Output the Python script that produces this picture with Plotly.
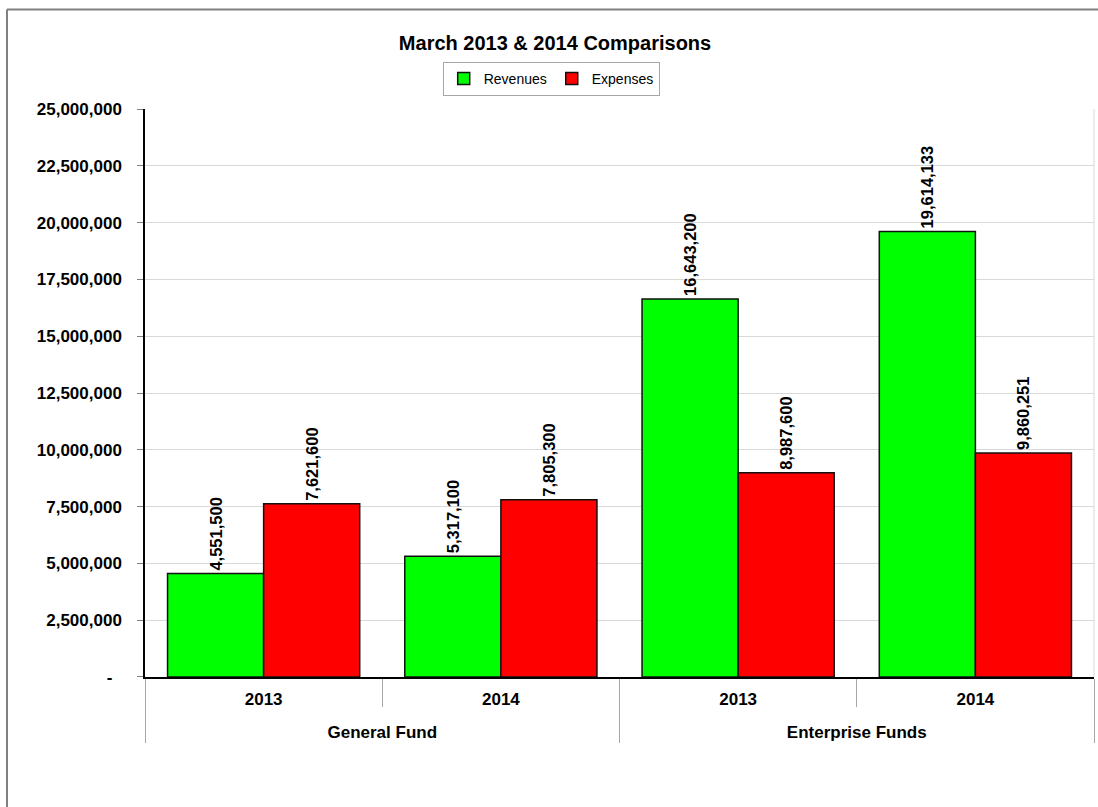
import plotly.graph_objects as go

funds = ["General Fund", "General Fund", "Enterprise Funds", "Enterprise Funds"]
years = ["2013", "2014", "2013", "2014"]
revenues = [4551500, 5317100, 16643200, 19614133]
expenses = [7621600, 7805300, 8987600, 9860251]
y_ticks = [0, 2500000, 5000000, 7500000, 10000000, 12500000, 15000000,
           17500000, 20000000, 22500000, 25000000]
y_ticktext = ["-\u00a0\u00a0"] + [f"{v:,}" for v in y_ticks[1:]]

FONT = "Liberation Sans, Arial, sans-serif"

# inner labels get a tiny spacer line so the outer level sits lower (as in the original)
year_labels = [f"{y}<br><span style='font-size:1px'>\u00a0</span>" for y in years]

fig = go.Figure()
fig.add_trace(go.Bar(
    name="Revenues", x=[funds, year_labels], y=revenues,
    marker=dict(color="#00FF00", line=dict(color="#111111", width=1.5)),
    text=[f"{v:,}" for v in revenues], textposition="outside", textangle=-90,
    textfont=dict(family=FONT, size=16.5, color="black", weight="bold"),
    constraintext="none", cliponaxis=False,
))
fig.add_trace(go.Bar(
    name="Expenses", x=[funds, year_labels], y=expenses,
    marker=dict(color="#FF0000", line=dict(color="#111111", width=1.5)),
    text=[f"{v:,}" for v in expenses], textposition="outside", textangle=-90,
    textfont=dict(family=FONT, size=16.5, color="black", weight="bold"),
    constraintext="none", cliponaxis=False,
))

fig.update_layout(
    width=1098, height=807,
    margin=dict(l=145, r=4, t=107, b=130),
    paper_bgcolor="white", plot_bgcolor="white",
    barmode="group", bargap=0.19, bargroupgap=0,
    font=dict(family=FONT, color="black"),
    title=dict(text="March 2013 & 2014 Comparisons",
               font=dict(family=FONT, size=20, color="black", weight="bold"),
               xref="container", x=0.5055, xanchor="center",
               yref="container", y=1 - 43 / 807, yanchor="middle"),
    legend=dict(orientation="h", xref="container", x=0.502, xanchor="center",
                yref="container", y=1 - 62 / 807, yanchor="top",
                bordercolor="#A6A6A6", borderwidth=1,
                font=dict(family=FONT, size=14, color="black"),
                itemwidth=30),
    xaxis=dict(type="multicategory", showline=True, linecolor="black", linewidth=1.5,
               ticks="outside", ticklen=28, tickcolor="#A6A6A6", tickwidth=1,
               showdividers=True, dividercolor="#A6A6A6", dividerwidth=1,
               ticklabelstandoff=6,
               tickfont=dict(family=FONT, size=17, color="black", weight="bold"),
               showgrid=False),
    yaxis=dict(range=[0, 25000000], tickvals=y_ticks, ticktext=y_ticktext,
               showgrid=True, gridcolor="#D9D9D9", gridwidth=1,
               showline=True, linecolor="black", linewidth=1.5,
               ticks="outside", ticklen=6, tickcolor="#808080",
               ticklabelstandoff=12, zeroline=False,
               tickfont=dict(family=FONT, size=17, color="black", weight="bold")),
    shapes=[
        dict(type="line", xref="paper", yref="paper", x0=1, x1=1, y0=0, y1=1,
             line=dict(color="#D9D9D9", width=1), layer="below"),
        dict(type="line", xref="paper", yref="paper",
             x0=(7 - 145) / 949, x1=1.01, y0=(677 - 7) / 570, y1=(677 - 7) / 570,
             line=dict(color="#808080", width=2)),
        dict(type="line", xref="paper", yref="paper",
             x0=(7 - 145) / 949, x1=(7 - 145) / 949, y0=(677 - 7) / 570, y1=-0.3,
             line=dict(color="#808080", width=2)),
    ],
)

fig.write_html("out.html")
